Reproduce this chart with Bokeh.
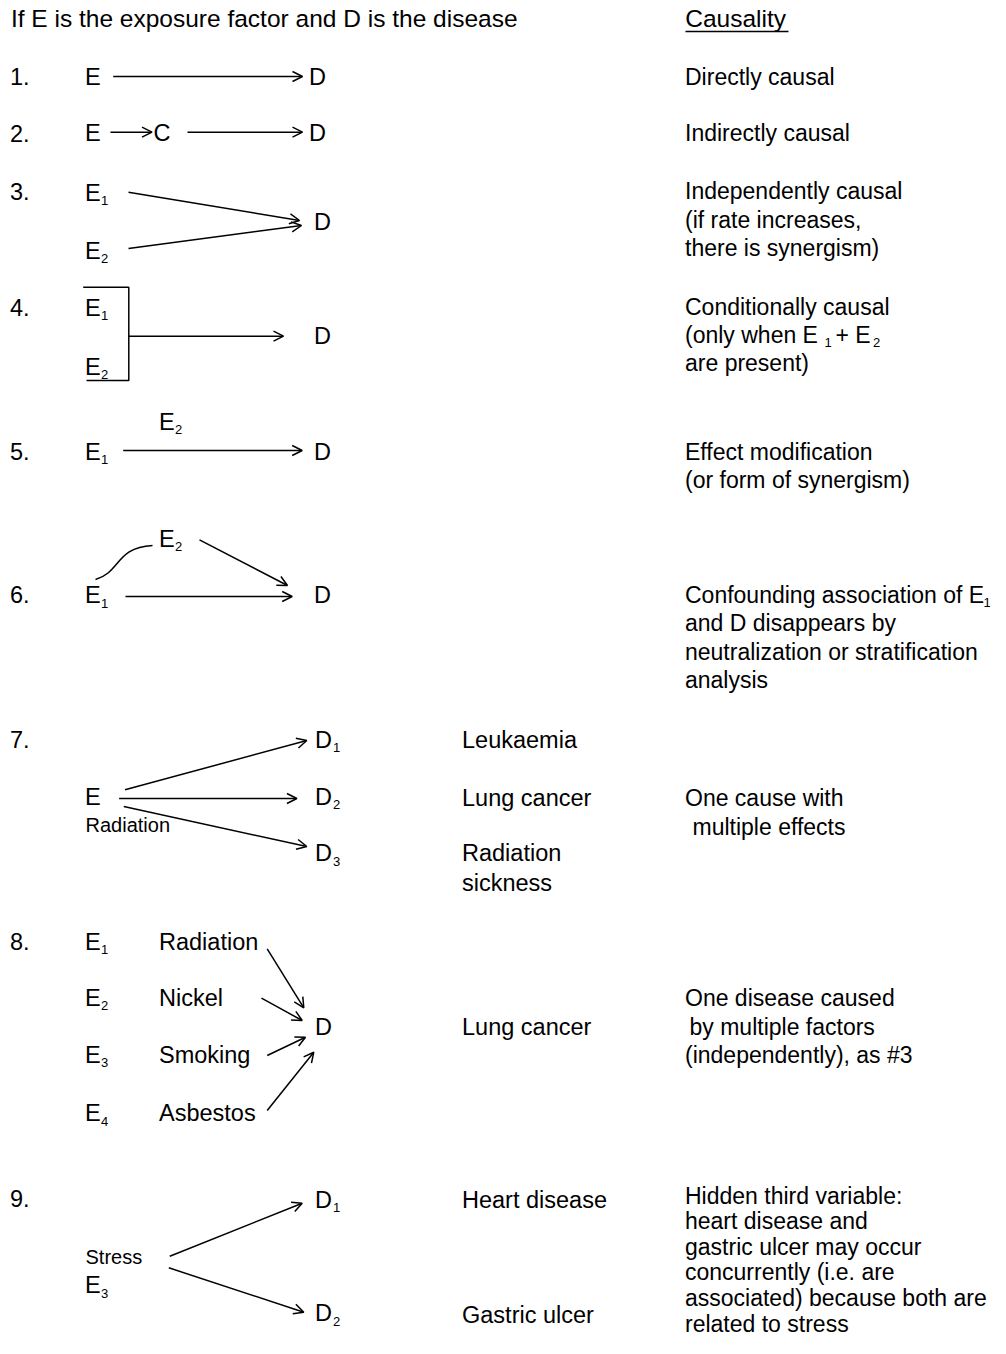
from bokeh.plotting import figure
from bokeh.models import Range1d, ColumnDataSource, Arrow, OpenHead
from bokeh.core.properties import value
from bokeh.embed import file_html
from bokeh.resources import INLINE

FONT = "Liberation Sans"
TEXT_DY = -9  # baseline correction of the SVG text renderer

# ---------------- texts (label, x, baseline y) ----------------
header_texts = [("If E is the exposure factor and D is the disease", 10.4, 27)]
causality_title = [("Causality", 684.8, 27)]

row_numbers = ["1.", "2.", "3.", "4.", "5.", "6.", "7.", "8.", "9."]
row_number_y = [85, 141.7, 200, 316, 460, 603, 748, 950, 1207]

left_labels = [
    ("E", 84.5, 85), ("D", 308.5, 85),
    ("E", 84.5, 141.7), ("C", 153, 141.7), ("D", 308.5, 141.7),
    ("E", 84.5, 201), ("E", 84.5, 259), ("D", 313.5, 230.5),
    ("E", 84.5, 316), ("E", 84.5, 375), ("D", 313.5, 344),
    ("E", 84.5, 460), ("E", 158.5, 430), ("D", 313.5, 460),
    ("E", 84.5, 603), ("E", 158.5, 547), ("D", 313.5, 603),
    ("E", 84.5, 805), ("D", 314.5, 748), ("D", 314.5, 805), ("D", 314.5, 861.7),
    ("E", 84.5, 950), ("E", 84.5, 1006), ("E", 84.5, 1063.3), ("E", 84.5, 1121.7),
    ("Radiation", 158.5, 950), ("Nickel", 158.5, 1006),
    ("Smoking", 158.5, 1063.3), ("Asbestos", 158.5, 1121.7),
    ("D", 314.5, 1035),
    ("D", 314.5, 1208.3), ("D", 314.5, 1321.7), ("E", 84.5, 1293.3),
]
small_labels = [("Radiation", 85, 833.3), ("Stress", 85, 1265)]

subscripts = [
    ("1", 100.5, 209), ("2", 100.5, 267),
    ("1", 100.5, 324), ("2", 100.5, 383),
    ("1", 100.5, 468), ("2", 174.5, 438),
    ("1", 100.5, 611.5), ("2", 174.5, 555),
    ("1", 332.5, 756), ("2", 332.5, 813), ("3", 332.5, 870),
    ("1", 100.5, 958), ("2", 100.5, 1014), ("3", 100.5, 1071.3), ("4", 100.5, 1129.7),
    ("1", 332.5, 1216), ("2", 332.5, 1329.7), ("3", 100.5, 1301.5),
    ("1", 824, 351), ("2", 872.5, 351), ("1", 983, 611),
]

disease_names = [
    ("Leukaemia", 461.5, 748.3), ("Lung cancer", 461.5, 806.7),
    ("Radiation", 461.5, 861.7), ("sickness", 461.5, 891.7),
    ("Lung cancer", 461.5, 1035),
    ("Heart disease", 461.5, 1208.3), ("Gastric ulcer", 461.5, 1323.3),
]

causality_texts = [
    ("Directly causal", 684.5, 85),
    ("Indirectly causal", 684.5, 141.7),
    ("Independently causal", 684.5, 199.3),
    ("(if rate increases,", 684.5, 228),
    ("there is synergism)", 684.5, 256.7),
    ("Conditionally causal", 684.5, 315),
    ("(only when E", 684.5, 343.3), ("+ E", 835, 343.3),
    ("are present)", 684.5, 371.7),
    ("Effect modification", 684.5, 460),
    ("(or form of synergism)", 684.5, 488.3),
    ("Confounding association of E", 684.5, 603),
    ("and D disappears by", 684.5, 631.7),
    ("neutralization or stratification", 684.5, 660),
    ("analysis", 684.5, 688.3),
    ("One cause with", 684.5, 806.7),
    ("multiple effects", 692, 835),
    ("One disease caused", 684.5, 1006.7),
    ("by multiple factors", 689, 1035),
    ("(independently), as #3", 684.5, 1063),
    ("Hidden third variable:", 684.5, 1204),
    ("heart disease and", 684.5, 1229.6),
    ("gastric ulcer may occur", 684.5, 1255.2),
    ("concurrently (i.e. are", 684.5, 1280.8),
    ("associated) because both are", 684.5, 1306.4),
    ("related to stress", 684.5, 1332),
]

# ---------------- arrows (x0, y0, x1, y1) ----------------
arrow_x0 = [112.7, 110, 187, 128, 128, 128, 122.7, 199, 125,
            124.5, 118.6, 123.3, 266.7, 261, 266.7, 266.7, 169.3, 168.3]
arrow_y0 = [76, 131.7, 131.7, 191.7, 248, 335.7, 450, 539.3, 596,
            789.3, 798, 806, 948.3, 997.7, 1055, 1110, 1255.7, 1267.3]
arrow_x1 = [302, 151.5, 302, 299, 301, 283, 301.7, 287, 291.7,
            306.3, 296.4, 306.3, 303.3, 301.7, 305, 313.3, 301.7, 303.3]
arrow_y1 = [76, 131.7, 131.7, 220, 225, 335.7, 450, 585, 596,
            740, 798, 846, 1007.3, 1020, 1036.7, 1051.7, 1202.7, 1311.7]

# bracket of item 4 and underline of "Causality"
plain_lines_x = [[82.7, 128.3, 128.3, 86], [685, 788]]
plain_lines_y = [[286.7, 286.7, 380, 380], [31, 31]]

# wavy link E1 - E2 of item 6 (start, end, control points)
curve = dict(x0=[95], y0=[579], x1=[152], y1=[545],
             cx0=[120], cy0=[572], cx1=[115], cy1=[547])

# ---------------- figure ----------------
p = figure(width=990, height=1338, x_range=Range1d(0, 990), y_range=Range1d(1338, 0),
           x_axis_type=None, y_axis_type=None, output_backend="svg",
           toolbar_location=None, min_border=0)
p.grid.visible = False
p.outline_line_color = None
p.background_fill_color = "white"
p.border_fill_color = "white"


def draw(items, size):
    src = ColumnDataSource(dict(x=[i[1] for i in items],
                                y=[i[2] + TEXT_DY for i in items],
                                t=[i[0] for i in items]))
    p.text(x="x", y="y", text="t", source=src, text_font=value(FONT),
           text_font_size=value(size), text_baseline="alphabetic",
           text_align="left", text_color="black")


draw(header_texts, "24.5px")
draw(causality_title, "24.5px")
draw([(t, 9.5, y) for t, y in zip(row_numbers, row_number_y)], "23.5px")
draw(left_labels, "23.5px")
draw(disease_names, "23.5px")
draw(causality_texts, "23px")
draw(small_labels, "20px")
draw(subscripts, "13px")

arrow_src = ColumnDataSource(dict(x0=arrow_x0, y0=arrow_y0, x1=arrow_x1, y1=arrow_y1))
p.add_layout(Arrow(end=OpenHead(size=10, line_width=1.5, line_color="black"),
                   x_start="x0", y_start="y0", x_end="x1", y_end="y1",
                   source=arrow_src, line_width=1.5, line_color="black"))

p.multi_line(xs=plain_lines_x, ys=plain_lines_y, line_width=1.5, line_color="black")
p.bezier(source=ColumnDataSource(curve), x0="x0", y0="y0", x1="x1", y1="y1",
         cx0="cx0", cy0="cy0", cx1="cx1", cy1="cy1", line_width=1.5, line_color="black")

open("out.html", "w").write(file_html(p, INLINE))
